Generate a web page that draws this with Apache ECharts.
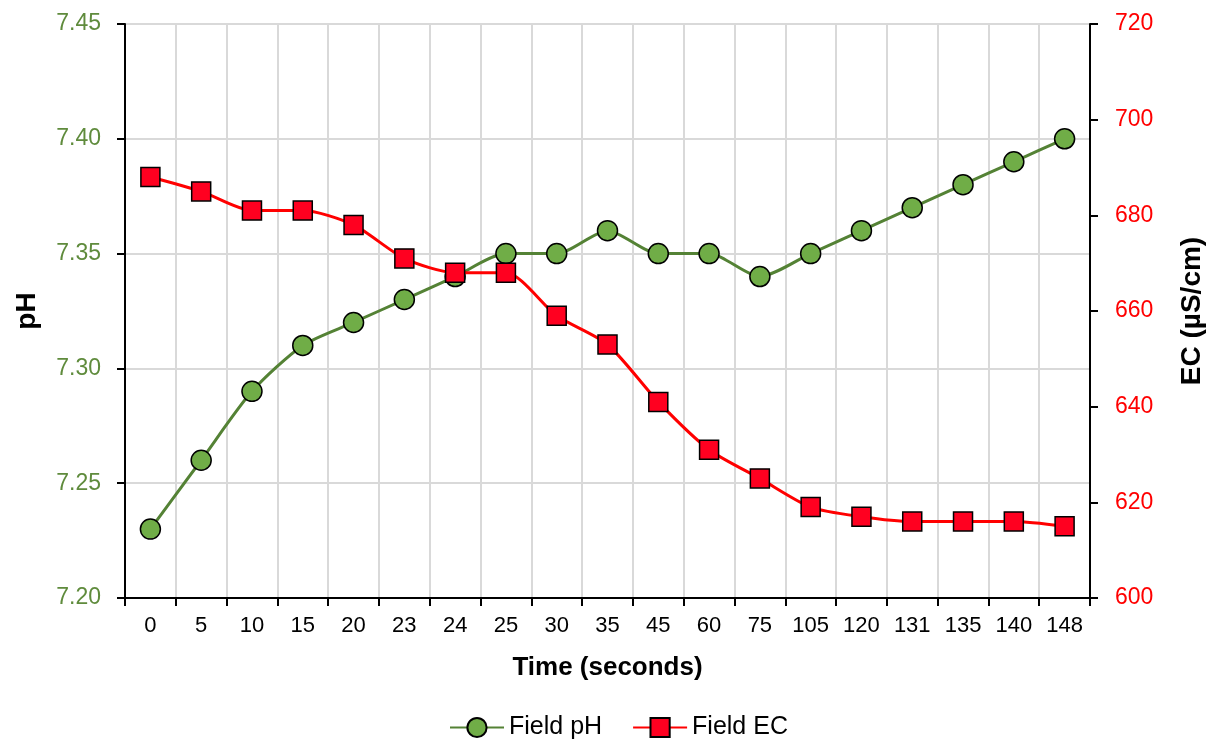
<!DOCTYPE html>
<html>
<head>
<meta charset="utf-8">
<script src="https://cdn.jsdelivr.net/npm/echarts@6/dist/echarts.min.js"></script>
<style>
  html, body { margin: 0; padding: 0; background: #fff; }
  #chart { width: 1214px; height: 742px; }
</style>
</head>
<body>
<div id="chart"></div>
<script>
  const timeLabels = ["0", "5", "10", "15", "20", "23", "24", "25", "30", "35", "45", "60", "75", "105", "120", "131", "135", "140", "148"];
  const fieldPH = [7.23, 7.26, 7.29, 7.31, 7.32, 7.33, 7.34, 7.35, 7.35, 7.36, 7.35, 7.35, 7.34, 7.35, 7.36, 7.37, 7.38, 7.39, 7.40];
  const fieldEC = [688, 685, 681, 681, 678, 671, 668, 668, 659, 653, 641, 631, 625, 619, 617, 616, 616, 616, 615];

  const font = '"Liberation Sans", Arial, sans-serif';
  const green = "#5f8b3c";
  const red = "#ff0000";

  const chart = echarts.init(document.getElementById("chart"), null, { renderer: "canvas" });

  chart.setOption({
    animation: false,
    textStyle: { fontFamily: font },
    grid: {
      left: 125, right: 117, top: 24, bottom: 144,
      show: true, borderColor: "#000", borderWidth: 2
    },
    legend: {
      top: 710,
      left: 444,
      itemWidth: 54,
      itemHeight: 24,
      itemGap: 30,
      textStyle: { fontFamily: font, fontSize: 25, color: "#000" },
      data: ["Field pH", "Field EC"]
    },
    xAxis: {
      type: "category",
      data: timeLabels,
      boundaryGap: true,
      name: "Time (seconds)",
      nameLocation: "middle",
      nameGap: 57,
      nameTextStyle: { fontFamily: font, fontSize: 26, fontWeight: "bold", color: "#000" },
      axisLine: { lineStyle: { color: "#000", width: 2 } },
      axisTick: { show: true, length: 8, interval: 0, lineStyle: { color: "#000", width: 2 } },
      axisLabel: { interval: 0, margin: 17, fontSize: 22, color: "#000", fontFamily: font },
      splitLine: { show: true, interval: 0, lineStyle: { color: "#d9d9d9", width: 2 } }
    },
    yAxis: [
      {
        type: "value",
        min: 7.2, max: 7.45, interval: 0.05,
        name: "pH",
        nameLocation: "middle",
        nameRotate: 90,
        nameGap: 84,
        nameTextStyle: { fontFamily: font, fontSize: 28, fontWeight: "bold", color: "#000" },
        axisLine: { show: true, lineStyle: { color: "#000", width: 2 } },
        axisTick: { show: true, length: 8, lineStyle: { color: "#000", width: 2 } },
        axisLabel: {
          margin: 24, fontSize: 23, color: green, fontFamily: font,
          formatter: (v) => v.toFixed(2)
        },
        splitLine: { show: true, lineStyle: { color: "#d9d9d9", width: 2 } }
      },
      {
        type: "value",
        min: 600, max: 720, interval: 20,
        name: "EC (µS/cm)",
        nameLocation: "middle",
        nameRotate: 90,
        nameGap: 88,
        nameTextStyle: { fontFamily: font, fontSize: 28, fontWeight: "bold", color: "#000" },
        axisLine: { show: true, lineStyle: { color: "#000", width: 2 } },
        axisTick: { show: true, length: 8, lineStyle: { color: "#000", width: 2 } },
        axisLabel: { margin: 25, fontSize: 23, color: red, fontFamily: font },
        splitLine: { show: false }
      }
    ],
    series: [
      {
        name: "Field pH",
        type: "line",
        yAxisIndex: 0,
        data: fieldPH,
        smooth: 0.25,
        symbol: "circle",
        symbolSize: 20,
        lineStyle: { color: "#548235", width: 3 },
        itemStyle: { color: "#70ad47", borderColor: "#000", borderWidth: 1.5 },
        z: 3
      },
      {
        name: "Field EC",
        type: "line",
        yAxisIndex: 1,
        data: fieldEC,
        smooth: 0.25,
        symbol: "rect",
        symbolSize: 19,
        lineStyle: { color: red, width: 3 },
        itemStyle: { color: "#ff0020", borderColor: "#000", borderWidth: 1.5 },
        z: 4
      }
    ]
  });
</script>
</body>
</html>
